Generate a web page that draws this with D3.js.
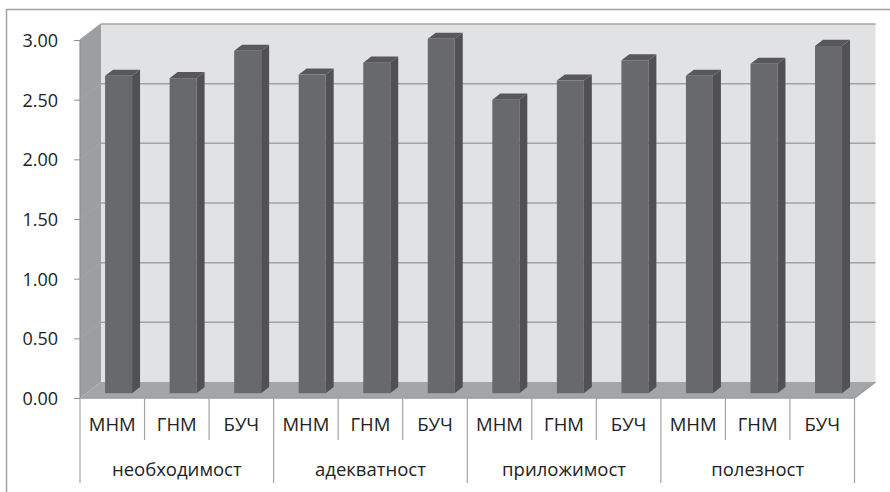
<!DOCTYPE html>
<html lang="bg">
<head>
<meta charset="UTF-8">
<title>3D column chart</title>
<style>
  body { margin: 0; background: #fff; }
  svg { display: block; }
  text { font-family: "Open Sans", "Noto Sans", sans-serif; fill: #222; }
  .axis path { display: none; }
  .axis line { stroke: #8f8f8f; }
  .axis text { font-size: 18px; fill: #222; }
</style>
</head>
<body>
<script src="https://d3js.org/d3.v7.min.js"></script>
<script>
// data
const groups = ['необходимост', 'адекватност', 'приложимост', 'полезност'];
const subs = ['МНМ', 'ГНМ', 'БУЧ'];
const values = [
  [2.66, 2.64, 2.87],
  [2.67, 2.77, 2.97],
  [2.46, 2.62, 2.79],
  [2.66, 2.76, 2.91]
];
const tickValues = [0, 0.5, 1, 1.5, 2, 2.5, 3];

const W = 890, H = 492;
const plot = { left: 80, right: 854.5, top: 40, bottom: 398 };
const DX = 21, DY = 16;           // depth of the 3D box
const barD0 = 0.3, barD1 = 0.68;  // bar depth range (fraction)

const rows = [];
groups.forEach((g, gi) => subs.forEach((s, si) => rows.push({ key: g + '|' + s, group: g, sub: s, value: values[gi][si] })));

const svg = d3.select('body').append('svg').attr('width', W).attr('height', H);

// outer frame
svg.append('rect')
  .attr('x', 6.5).attr('y', 9.5).attr('width', W + 10).attr('height', H + 10)
  .attr('fill', 'none').attr('stroke', '#a3a3a3').attr('stroke-width', 1.5);

const x = d3.scaleBand().domain(rows.map(d => d.key)).range([plot.left, plot.right]).padding(0);
const y = d3.scaleLinear().domain([0, 3]).range([plot.bottom, plot.top]);

const pts = p => p.map(q => q.join(',')).join(' ');

// left wall
svg.append('polygon')
  .attr('points', pts([[plot.left, y(3)], [plot.left + DX, y(3) - DY], [plot.left + DX, y(0) - DY], [plot.left, y(0)]]))
  .attr('fill', '#9d9ea0');

// back wall
svg.append('rect')
  .attr('x', plot.left + DX).attr('y', y(3) - DY)
  .attr('width', plot.right - plot.left).attr('height', y(0) - y(3))
  .attr('fill', '#e1e2e4');

// floor
svg.append('polygon')
  .attr('points', pts([[plot.left, y(0)], [plot.left + DX, y(0) - DY], [plot.right + DX, y(0) - DY], [plot.right, y(0)]]))
  .attr('fill', '#a4a5a7');

// gridlines on back wall and left wall
const grid = svg.append('g').attr('stroke', '#a2a2a2').attr('stroke-width', 1.5).attr('fill', 'none');
tickValues.filter(v => v > 0).forEach(v => {
  grid.append('line')
    .attr('x1', plot.left + DX).attr('x2', plot.right + DX)
    .attr('y1', y(v) - DY).attr('y2', y(v) - DY);
  grid.append('line')
    .attr('x1', plot.left).attr('x2', plot.left + DX)
    .attr('y1', y(v)).attr('y2', y(v) - DY);
});
// floor edges
grid.append('polyline')
  .attr('points', pts([[plot.left, y(0)], [plot.right, y(0)], [plot.right + DX, y(0) - DY]]))
  .attr('stroke', '#9a9a9a');

// bars
const bw = 27;
const bdx = (barD1 - barD0) * DX, bdy = (barD1 - barD0) * DY;
const bars = svg.append('g').selectAll('g').data(rows).join('g');
bars.each(function (d) {
  const g = d3.select(this);
  const x0 = x(d.key) + (x.bandwidth() - bw) / 2 + barD0 * DX;
  const yb = y(0) - barD0 * DY;
  const yt = y(d.value) - barD0 * DY;
  // side
  g.append('polygon')
    .attr('points', pts([[x0 + bw, yt], [x0 + bw + bdx, yt - bdy], [x0 + bw + bdx, yb - bdy], [x0 + bw, yb]]))
    .attr('fill', '#515153');
  // top
  g.append('polygon')
    .attr('points', pts([[x0, yt], [x0 + bdx, yt - bdy], [x0 + bw + bdx, yt - bdy], [x0 + bw, yt]]))
    .attr('fill', '#58585a');
  // front
  g.append('rect')
    .attr('x', x0).attr('y', yt).attr('width', bw).attr('height', yb - yt)
    .attr('fill', '#68696c');
});

// y axis
svg.append('line')
  .attr('x1', plot.left).attr('x2', plot.left)
  .attr('y1', y(3)).attr('y2', y(0))
  .attr('stroke', '#8f8f8f').attr('stroke-width', 1.2);
svg.append('g')
  .attr('class', 'axis')
  .attr('transform', `translate(${plot.left},0)`)
  .call(d3.axisLeft(y).tickValues(tickValues).tickFormat(d3.format('.2f')).tickSize(6).tickPadding(16))
  .selectAll('text').attr('dy', '0.36em');

// category axis
const cat = svg.append('g');
const lineCol = '#a3a3a3';
rows.forEach((d, i) => {
  const xl = x(d.key);
  const isGroupStart = i % subs.length === 0;
  cat.append('line')
    .attr('x1', xl).attr('x2', xl)
    .attr('y1', plot.bottom).attr('y2', isGroupStart ? 483 : 440)
    .attr('stroke', lineCol).attr('stroke-width', 1.2);
  cat.append('text')
    .attr('x', xl + x.bandwidth() / 2).attr('y', 431)
    .attr('text-anchor', 'middle')
    .style('font-size', '18.5px')
    .text(d.sub);
});
cat.append('line')
  .attr('x1', plot.right).attr('x2', plot.right)
  .attr('y1', plot.bottom).attr('y2', 483)
  .attr('stroke', lineCol).attr('stroke-width', 1.2);
groups.forEach((g, gi) => {
  const xa = x(g + '|' + subs[0]);
  const xb = x(g + '|' + subs[subs.length - 1]) + x.bandwidth();
  cat.append('text')
    .attr('x', (xa + xb) / 2).attr('y', 476)
    .attr('text-anchor', 'middle')
    .style('font-size', '18.5px')
    .text(g);
});
</script>
</body>
</html>
